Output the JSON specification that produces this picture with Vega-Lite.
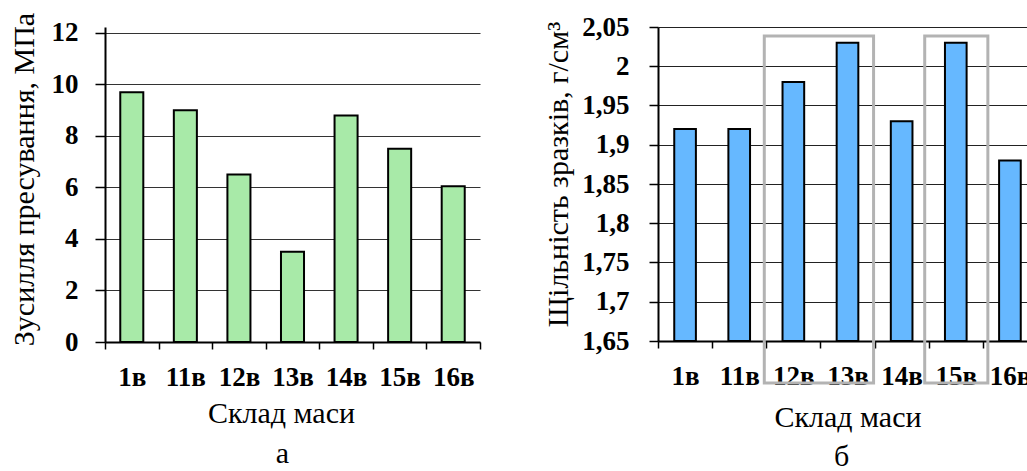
{
  "$schema": "https://vega.github.io/schema/vega-lite/v6.json",
  "background": "white",
  "padding": {"left": 8, "top": 12, "right": 0, "bottom": 0},
  "bounds": "flush",
  "spacing": 178,
  "config": {
    "view": {"stroke": null},
    "font": "Liberation Serif",
    "axis": {
      "labelFont": "Liberation Serif",
      "titleFont": "Liberation Serif",
      "labelColor": "black",
      "titleColor": "black",
      "labelFontWeight": "bold",
      "labelFontSize": 27,
      "titleFontSize": 30,
      "titleFontWeight": "normal",
      "domainColor": "black",
      "domainWidth": 2,
      "tickColor": "black",
      "tickWidth": 1.5,
      "labelOverlap": false
    }
  },
  "hconcat": [
    {
      "width": 375,
      "height": 315,
      "title": {"text": "а", "orient": "bottom", "font": "Liberation Serif", "fontSize": 30, "fontWeight": "normal", "color": "black", "offset": 11, "dx": -10},
      "data": {"values": [
        {"sklad": "1в", "zusyllia": 9.7},
        {"sklad": "11в", "zusyllia": 9.0},
        {"sklad": "12в", "zusyllia": 6.5},
        {"sklad": "13в", "zusyllia": 3.5},
        {"sklad": "14в", "zusyllia": 8.8},
        {"sklad": "15в", "zusyllia": 7.5},
        {"sklad": "16в", "zusyllia": 6.05}
      ]},
      "mark": {"type": "bar", "fill": "#a8eaa8", "stroke": "black", "strokeWidth": 2, "width": {"band": 0.43}},
      "encoding": {
        "x": {
          "field": "sklad", "type": "nominal", "sort": null,
          "scale": {"paddingInner": 0, "paddingOuter": 0},
          "axis": {"title": "Склад маси", "labelAngle": 0, "tickBand": "extent", "tickSize": 7, "labelPadding": 15, "titlePadding": 8, "titleX": 176, "grid": false}
        },
        "y": {
          "field": "zusyllia", "type": "quantitative",
          "scale": {"domain": [0, 12.233], "nice": false, "zero": true},
          "axis": {"title": "Зусилля пресування, МПа", "values": [0, 2, 4, 6, 8, 10, 12], "tickCount": 20, "format": "d", "tickSize": 10, "labelPadding": 17, "labelOverlap": false, "grid": true, "gridColor": "#333", "gridWidth": 1.2, "titleX": -81, "titleY": 152, "titleBaseline": "middle", "titleAngle": -90}
        }
      }
    },
    {
      "width": 379,
      "height": 314,
      "title": {"text": "б", "orient": "bottom", "font": "Liberation Serif", "fontSize": 30, "fontWeight": "normal", "color": "black", "offset": 10, "dx": -6},
      "layer": [
        {
          "data": {"values": [
            {"sklad": "1в", "shchilnist": 1.92},
            {"sklad": "11в", "shchilnist": 1.92},
            {"sklad": "12в", "shchilnist": 1.98},
            {"sklad": "13в", "shchilnist": 2.03},
            {"sklad": "14в", "shchilnist": 1.93},
            {"sklad": "15в", "shchilnist": 2.03},
            {"sklad": "16в", "shchilnist": 1.88}
          ]},
          "mark": {"type": "bar", "fill": "#66b8ff", "stroke": "black", "strokeWidth": 2, "width": {"band": 0.4}},
          "encoding": {
            "x": {
              "field": "sklad", "type": "nominal", "sort": null,
              "scale": {"paddingInner": 0, "paddingOuter": 0},
              "axis": {"title": "Склад маси", "labelAngle": 0, "tickBand": "extent", "tickSize": 7, "labelPadding": 15, "titlePadding": 13, "grid": false}
            },
            "y": {
              "field": "shchilnist", "type": "quantitative",
              "scale": {"domain": [1.65, 2.05], "nice": false, "zero": false},
              "axis": {"title": "Щільність зразків,  г/см³", "values": [1.65, 1.7, 1.75, 1.8, 1.85, 1.9, 1.95, 2, 2.05], "tickCount": 20, "labelExpr": "replace(format(datum.value, '.2~f'), '.', ',')", "tickSize": 9, "labelPadding": 20, "labelOverlap": false, "grid": true, "gridColor": "#222", "gridWidth": 1.2, "titleX": -100, "titleY": 147, "titleBaseline": "middle", "titleAngle": -90}
            },
            "y2": {"datum": 1.65}
          }
        },
        {
          "data": {"values": [{"sklad": "12в", "to": "13в", "top": 2.0385, "bottom": 1.5965}]},
          "mark": {"type": "rect", "fill": null, "stroke": "#b3b3b3", "strokeWidth": 3, "xOffset": -2, "x2Offset": -1, "clip": false},
          "encoding": {
            "x": {"field": "sklad", "type": "nominal", "sort": null, "bandPosition": 0},
            "x2": {"field": "to", "bandPosition": 1},
            "y": {"field": "top", "type": "quantitative"},
            "y2": {"field": "bottom"}
          }
        },
        {
          "data": {"values": [{"sklad": "15в", "to": "15в", "top": 2.0385, "bottom": 1.5965}]},
          "mark": {"type": "rect", "fill": null, "stroke": "#b3b3b3", "strokeWidth": 3, "xOffset": -4, "x2Offset": 5, "clip": false},
          "encoding": {
            "x": {"field": "sklad", "type": "nominal", "sort": null, "bandPosition": 0},
            "x2": {"field": "to", "bandPosition": 1},
            "y": {"field": "top", "type": "quantitative"},
            "y2": {"field": "bottom"}
          }
        }
      ]
    }
  ]
}
